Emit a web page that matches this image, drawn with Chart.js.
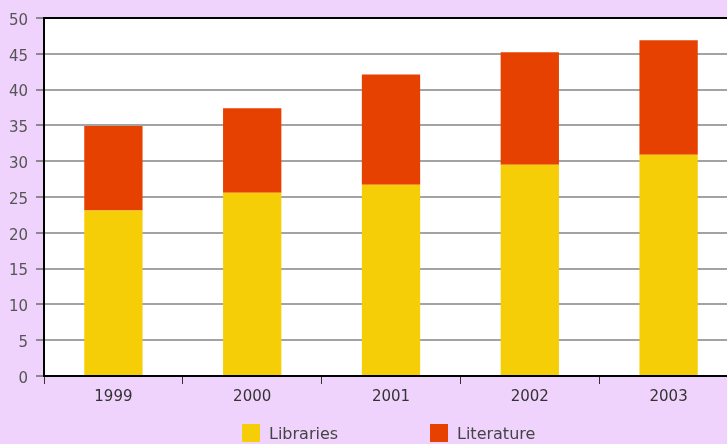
<!DOCTYPE html>
<html>
<head>
<meta charset="utf-8">
<script src="https://cdn.jsdelivr.net/npm/chart.js@4"></script>
<style>
    html, body { margin: 0; padding: 0; overflow: hidden; background: #efd3fc; }
    #wrap { width: 760px; height: 444px; }
</style>
</head>
<body>
<div id="wrap"><canvas id="chart" width="760" height="444"></canvas></div>
<script>
// values
const years = ['1999', '2000', '2001', '2002', '2003'];
const libraries = [23.1, 25.6, 26.7, 29.5, 30.9];
const literature = [11.8, 11.8, 15.4, 15.7, 16.0];
const yTicks = [0, 5, 10, 15, 20, 25, 30, 35, 40, 45, 50];

const FONT = 'DejaVu Sans';

// white plot area
const plotBackground = {
    id: 'plotBackground',
    beforeDraw(chart) {
        const { ctx, chartArea: a } = chart;
        ctx.save();
        ctx.fillStyle = '#ffffff';
        ctx.fillRect(a.left, a.top, a.right - a.left, a.bottom - a.top);
        ctx.restore();
    }
};

// legend under the axis, spread out like the original
const bottomLegend = {
    id: 'bottomLegend',
    afterDraw(chart) {
        const ctx = chart.ctx;
        const starts = [242, 430];
        ctx.save();
        ctx.font = '16px "' + FONT + '"';
        ctx.textBaseline = 'middle';
        chart.data.datasets.forEach((ds, i) => {
            const x = starts[i];
            ctx.fillStyle = ds.backgroundColor;
            ctx.fillRect(x, 424, 18, 18);
            ctx.fillStyle = '#444';
            ctx.fillText(ds.label, x + 27, 435);
        });
        ctx.restore();
    }
};

new Chart(document.getElementById('chart'), {
    type: 'bar',
    data: {
        labels: years,
        datasets: [
            { label: 'Libraries', data: libraries, backgroundColor: '#f6ce07' },
            { label: 'Literature', data: literature, backgroundColor: '#e64100' }
        ]
    },
    options: {
        responsive: false,
        animation: false,
        layout: { padding: { top: 18, right: 22, bottom: 0, left: 0 } },
        datasets: { bar: { categoryPercentage: 1, barPercentage: 0.42 } },
        plugins: { legend: { display: false }, tooltip: { enabled: false } },
        scales: {
            x: {
                stacked: true,
                afterFit(scale) { scale.height = 68; },
                border: { color: '#000', width: 2 },
                grid: { drawOnChartArea: false, color: '#333', tickLength: 8 },
                ticks: { color: '#333', padding: 4, font: { family: FONT, size: 15 } }
            },
            y: {
                stacked: true,
                min: 0,
                max: 50,
                afterFit(scale) { scale.width = 44; },
                afterBuildTicks(scale) { scale.ticks = yTicks.map(v => ({ value: v })); },
                border: { color: '#000', width: 2 },
                grid: {
                    color: c => (c.tick && c.tick.value === 50) ? '#000' : '#a3a3a3',
                    lineWidth: 2,
                    tickColor: '#8a8a8a',
                    tickLength: 8
                },
                ticks: { color: '#555', padding: 8, labelOffset: 3, font: { family: FONT, size: 15 } }
            }
        }
    },
    plugins: [plotBackground, bottomLegend]
});
</script>
</body>
</html>
